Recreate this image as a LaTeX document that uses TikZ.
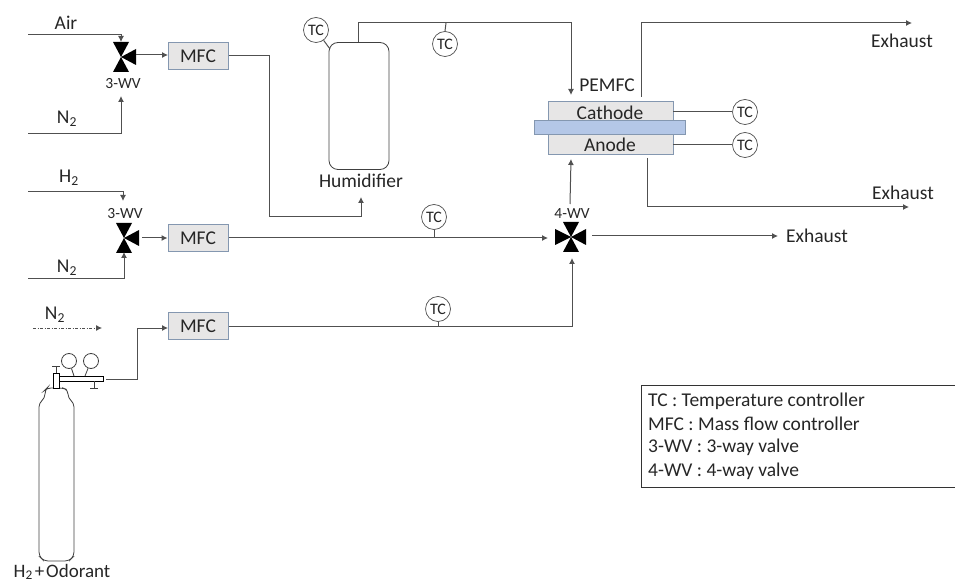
\documentclass[tikz,border=0pt]{standalone}
\usepackage{fontspec}
\setmainfont{Carlito}
\usetikzlibrary{arrows.meta}
\definecolor{linegray}{HTML}{505050}
\definecolor{boxfill}{HTML}{E7E6E6}
\definecolor{boxedge}{HTML}{8497B0}
\definecolor{memfill}{HTML}{B4C7E7}
\tikzset{
  x=1pt,y=-1pt,
  every node/.style={font=\fontsize{19.5}{20}\selectfont,text=black!85},
  pipe/.style={draw=linegray,line width=1pt},
  flow/.style={pipe,-{Latex[length=6pt,width=6pt]}},
  mfc/.style={draw=boxedge,fill=boxfill,line width=1pt,minimum width=60pt,minimum height=27pt,inner sep=0pt},
  tc/.style={circle,draw=linegray,line width=0.7pt,fill=white,minimum size=25pt,inner sep=0pt,font=\fontsize{16}{16}\selectfont},
  small/.style={font=\fontsize{15.5}{16}\selectfont,inner sep=0pt},
  lbl/.style={inner sep=0pt},
  valve/.style={minimum size=30pt,inner sep=0pt},
}
\newcommand{\valvetri}[1]{%
  \fill[black] (#1) -- ++(-8,-15) -- ++(16,0) -- cycle;
  \fill[black] (#1) -- ++(-8,15) -- ++(16,0) -- cycle;
  \fill[black] (#1) -- ++(15,-8) -- ++(0,16) -- cycle;
}
\begin{document}
\begin{tikzpicture}
\useasboundingbox (0,0) rectangle (955,585);
% valves
\node[valve] (v1) at (121,57) {};
\node[valve] (v2) at (124,238) {};
\node[valve] (v4) at (571,237) {};
\valvetri{v1.center}
\valvetri{v2.center}
\valvetri{v4.center}
\fill[black] (v4.center) -- ++(-16,-8) -- ++(0,16) -- cycle;
\node[small] at (123,84) {3-WV};
\node[small] at (125,214) {3-WV};
\node[small] at (572,214) {4-WV};
% boxes
\node[mfc] (m1) at (198,56) {MFC};
\node[mfc] (m2) at (198,238) {MFC};
\node[mfc] (m3) at (198,326) {MFC};
\node[draw=boxedge,fill=boxfill,line width=1pt,minimum width=125pt,minimum height=53pt,inner sep=0pt] (stack) at (610.5,128.5) {};
\node[draw=boxedge,fill=memfill,line width=1pt,minimum width=151pt,minimum height=14pt,inner sep=0pt] (mem) at (609.5,128) {};
\node[lbl] (cat) at (610,113) {Cathode};
\node[lbl] (ano) at (610,145) {Anode};
\node[lbl] at (607,85) {PEMFC};
% humidifier
\node[draw=black!75,line width=0.8pt,rounded corners=9pt,minimum width=60pt,minimum height=127pt,inner sep=0pt] (hum) at (359,106) {};
\node[lbl] at (361,181) {Humidifier};
% TCs
\node[tc] (tc1) at (316,30) {TC};
\node[tc] (tc2) at (445,44) {TC};
\node[tc] (tc3) at (745,112) {TC};
\node[tc] (tc4) at (745,145) {TC};
\node[tc] (tc5) at (434,217) {TC};
\node[tc] (tc6) at (438,309) {TC};
% free ends
\coordinate (air) at (28,35);
\coordinate (n1) at (28,134);
\coordinate (h2) at (28,192);
\coordinate (n2) at (28,278);
\node[lbl] at (66,23) {Air};
\node[lbl] at (67,119) {N\textsubscript{2}};
\node[lbl] at (69,178) {H\textsubscript{2}};
\node[lbl] at (67,268) {N\textsubscript{2}};
\node[lbl] at (55,315) {N\textsubscript{2}};
% inlet pipes
\draw[flow] (air) -- (121,35) -- (121,42);
\draw[flow] (n1) -- (121,134) -- (121,96);
\draw[flow] (h2) -- (123,192) -- (123,201);
\draw[flow] (n2) -- (124,278) -- (124,252);
\draw[flow] (136,55) -- (168,55);
\draw[flow] (142,238) -- (m2.west);
% mfc outlets
\draw[flow] (m1.east) -- (269,56) -- (269,217) -- (361,217) -- (361,197);
\draw[flow] (m2.east) -- (548,238);
\draw[flow] (m3.east) -- (572,326) -- (572,258);
% stack
\draw[flow] (358,42) -- (358,23) -- (571,23) -- (571,95);
\draw[flow] (570,204) -- (571,159);
\draw[flow] (592,236) -- (778,236);
\draw[flow] (641,97) -- (641,23) -- (912,23);
\draw[flow] (647,158) -- (647,207) -- (909,207);
\node[lbl] at (902,41) {Exhaust};
\node[lbl] at (903,193) {Exhaust};
\node[lbl] at (817,236) {Exhaust};
% TC stems
\draw[pipe] (tc1) -- (330,49);
\draw[pipe] (446,23) -- (tc2.north);
\draw[pipe] (673,112) -- (tc3.west);
\draw[pipe] (673,145) -- (tc4.west);
\draw[pipe] (tc5.south) -- (434,238);
\draw[pipe] (tc6.south) -- (438,326);
% nitrogen dash-dot
\draw[linegray,line width=0.8pt,dash pattern=on 3pt off 1.5pt on 1pt off 1.5pt,-{Latex[length=6pt,width=6pt]}] (33,328) -- (102,328);
% cylinder
\draw[black!75,line width=0.8pt,rounded corners=4pt] (47,388) -- (63,388) -- (68,390) -- (68,398) -- (74,403) -- (74,556) -- (69,561) -- (44,561) -- (39,556) -- (39,403) -- (45,398) -- (45,390) -- cycle;
% regulator
\draw[black,line width=0.9pt,fill=white] (59,376) rectangle (103,381);
\draw[black,line width=0.9pt,fill=white] (53,373) rectangle (59,388);
\draw[black!75,line width=0.8pt] (56,373) -- (56,366) (52,366) -- (60,366);
\draw[black!75,line width=0.8pt] (94,381) -- (94,388) (90,388) -- (98,388);
\node[circle,draw=black!75,line width=0.8pt,minimum size=15pt,inner sep=0pt] (g1) at (69,361) {};
\node[circle,draw=black!75,line width=0.8pt,minimum size=15pt,inner sep=0pt] (g2) at (91,361) {};
\draw[black!75,line width=0.8pt] (g1) -- (74,376);
\draw[black!75,line width=0.8pt] (g2) -- (85,376);
\draw[flow] (106,379) -- (137,379) -- (137,328) -- (168,328);
\node[lbl,font=\fontsize{19}{20}\selectfont] at (62,572) {H\textsubscript{2}\hspace{2pt}+\hspace{2pt}Odorant};
% legend
\draw[black!80,line width=0.8pt] (955,385) -- (641,385) -- (641,487) -- (955,487);
\node[lbl,anchor=west] at (648,401) {TC : Temperature controller};
\node[lbl,anchor=west] at (648,424) {MFC : Mass flow controller};
\node[lbl,anchor=west] at (648,447) {3-WV : 3-way valve};
\node[lbl,anchor=west] at (648,471) {4-WV : 4-way valve};
\end{tikzpicture}
\end{document}
